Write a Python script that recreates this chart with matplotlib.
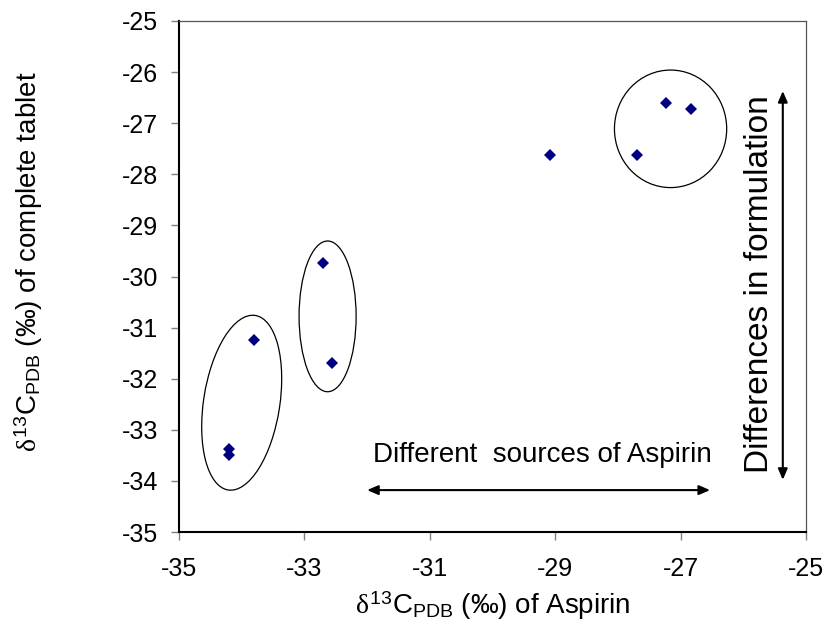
import matplotlib
matplotlib.use("Agg")
import matplotlib.pyplot as plt
from matplotlib.patches import Ellipse
from matplotlib.transforms import Affine2D

plt.rcParams['font.family'] = ['Liberation Sans', 'DejaVu Sans']
plt.rcParams['mathtext.fontset'] = 'custom'
plt.rcParams['mathtext.rm'] = 'Liberation Sans'
plt.rcParams['mathtext.it'] = 'Liberation Serif'
plt.rcParams['mathtext.bf'] = 'Liberation Sans:bold'

# data: delta13C of aspirin (x) vs complete tablet (y)
aspirin = [-34.20, -34.20, -33.80, -32.71, -32.56, -29.08, -27.70, -27.23, -26.83]
tablet = [-33.38, -33.50, -31.24, -29.73, -31.70, -27.62, -27.62, -26.61, -26.72]

xticks = [-35, -33, -31, -29, -27, -25]
yticks = [-35, -34, -33, -32, -31, -30, -29, -28, -27, -26, -25]

W, H = 828, 631
fig = plt.figure(figsize=(W / 100, H / 100), dpi=100)
L, R, T, B = 179, 806, 21, 532
ax = fig.add_axes([L / W, 1 - B / H, (R - L) / W, (B - T) / H])

ax.plot(aspirin, tablet, linestyle='none', marker='D', markersize=6.2,
        color='#000080', markeredgewidth=0)

ax.set_xlim(-35, -25)
ax.set_ylim(-35, -25)
ax.set_xticks(xticks)
ax.set_yticks(yticks)
ax.set_xticklabels([str(v) for v in xticks])
ax.set_yticklabels([str(v) for v in yticks])
ax.tick_params(axis='both', direction='out', length=5.8, width=1,
               color='#808080', labelsize=18, labelcolor='black')
ax.tick_params(axis='x', pad=12)
ax.tick_params(axis='y', pad=9)

for s in ['left', 'bottom']:
    ax.spines[s].set_linewidth(1.5)
    ax.spines[s].set_color('black')
for s in ['top', 'right']:
    ax.spines[s].set_linewidth(0.9)
    ax.spines[s].set_color('#555555')

# ellipses grouping the samples
sx = (R - L) / 10.0  # px per x unit
sy = (B - T) / 10.0  # px per y unit
ax.add_patch(Ellipse((-32.63, -30.78), 0.91, 2.95, fill=False, edgecolor='black', lw=0.9))
ax.add_patch(Ellipse((-27.16, -27.11), 1.79, 2.30, fill=False, edgecolor='black', lw=0.9))
e1 = Ellipse((0, 0), 76.2, 176.6, angle=-8.8, fill=False, edgecolor='black', lw=0.9)
e1.set_transform(Affine2D().scale(1 / sx, 1 / sy).translate(-34.00, -32.47) + ax.transData)
ax.add_patch(e1)

# arrows
ap = dict(arrowstyle='<|-|>,head_length=0.65,head_width=0.28', color='black',
          lw=1.5, shrinkA=0, shrinkB=0)
ax.annotate('', xy=(-26.53, -34.18), xytext=(-32.0, -34.18), arrowprops=ap)
ax.annotate('', xy=(-25.37, -26.37), xytext=(-25.37, -33.98), arrowprops=ap)

ax.text(-29.21, -33.49, 'Different  sources of Aspirin', ha='center', va='center', fontsize=20)
ax.text(-25.74, -30.15, 'Differences in formulation', rotation=90,
        ha='center', va='center', fontsize=24)

ax.set_xlabel(r'$\delta^{13}$C$_{\mathregular{PDB}}$ (‰) of Aspirin', fontsize=20, va='center')
ax.set_ylabel(r'$\delta^{13}$C$_{\mathregular{PDB}}$ (‰) of complete tablet', fontsize=20, va='center')
ax.xaxis.set_label_coords(0.5, -0.145)
ax.yaxis.set_label_coords(-0.24, 0.528)

fig.savefig('out.png', dpi=100)
